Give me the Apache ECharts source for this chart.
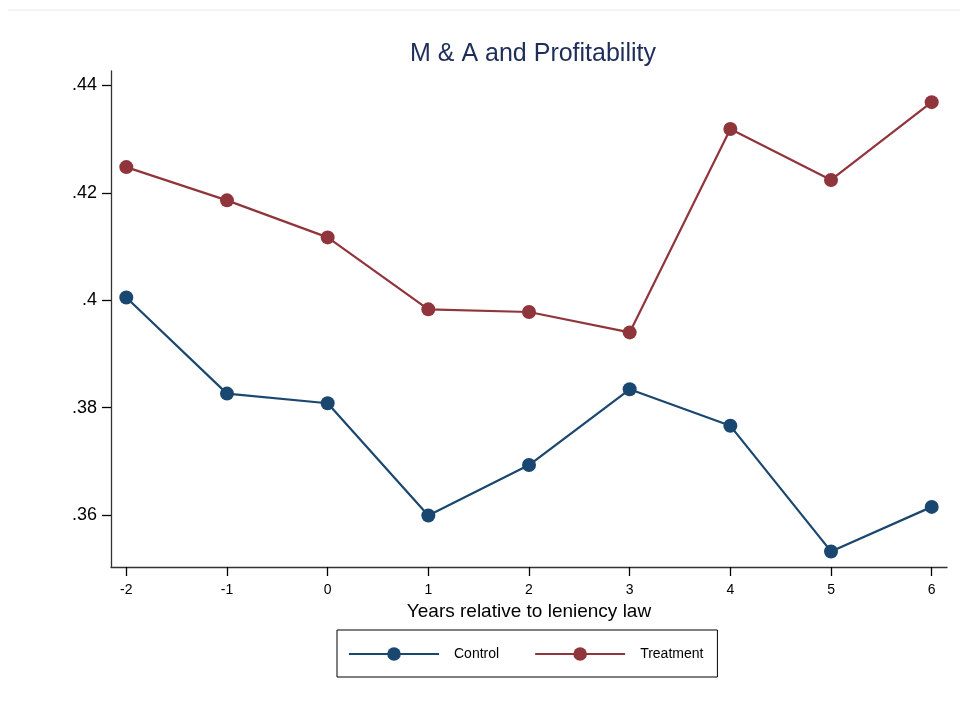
<!DOCTYPE html>
<html>
<head>
<meta charset="utf-8">
<script src="https://cdn.jsdelivr.net/npm/echarts@6/dist/echarts.min.js"></script>
<style>
  html, body { margin: 0; padding: 0; background: #fff; }
  #chart { width: 960px; height: 703px; }
</style>
</head>
<body>
<div id="chart"></div>
<script>
// years relative to the law
var years = [-2, -1, 0, 1, 2, 3, 4, 5, 6];
var controlVals = [0.4005, 0.3826, 0.3808, 0.3599, 0.3693, 0.3834, 0.3766, 0.3532, 0.3615];
var treatVals = [0.4248, 0.4186, 0.4117, 0.3983, 0.3978, 0.3940, 0.4319, 0.4224, 0.4369];
var yTicks = [0.36, 0.38, 0.40, 0.42, 0.44];

var blue = '#1a476f';
var red = '#90353b';

function pairs(vals) {
	var out = [];
	years.forEach(function(yr, i) {
		out.push([yr, vals[i]]);
	});
	return out;
}

var myChart = echarts.init(document.getElementById('chart'));

var option = {
	backgroundColor: '#fff',
	animation: false,
	title: {
		text: 'M & A and Profitability',
		left: 528,
		textAlign: 'center',
		top: 37,
		textStyle: {
			fontFamily: 'Arial, "Liberation Sans", sans-serif',
			fontSize: 25,
			fontWeight: 'normal',
			color: '#1e2d5a'
		}
	},
	graphic: [{
		type: 'line',
		shape: { x1: 8, y1: 10, x2: 960, y2: 10 },
		style: { stroke: '#e4eaec', lineWidth: 1 }
	}],
	grid: {
		left: 111,
		right: 13,
		top: 71,
		bottom: 136
	},
	xAxis: {
		type: 'value',
		min: -2.152,
		max: 6.152,
		name: 'Years relative to leniency law',
		nameLocation: 'middle',
		nameGap: 29,
		nameTextStyle: {
			fontFamily: 'Arial, "Liberation Sans", sans-serif',
			fontSize: 19,
			color: '#000'
		},
		splitLine: { show: false },
		axisLine: { onZero: false, lineStyle: { color: '#333', width: 1.3 } },
		axisTick: { customValues: years, length: 9, lineStyle: { color: '#000', width: 1.3 } },
		axisLabel: {
			customValues: years,
			margin: 16,
			fontFamily: 'Arial, "Liberation Sans", sans-serif',
			fontSize: 14,
			color: '#000'
		}
	},
	yAxis: {
		type: 'value',
		min: 0.3503,
		max: 0.4427,
		splitLine: { show: false },
		axisLine: { show: true, onZero: false, lineStyle: { color: '#333', width: 1.3 } },
		axisTick: { show: true, customValues: yTicks, length: 9, lineStyle: { color: '#000', width: 1.3 } },
		axisLabel: {
			customValues: yTicks,
			margin: 14,
			fontFamily: 'Arial, "Liberation Sans", sans-serif',
			fontSize: 18,
			color: '#000',
			formatter: function(v) {
				return String(Number(v.toFixed(2))).replace(/^0/, '');
			}
		}
	},
	legend: {
		data: ['Control', 'Treatment'],
		left: 337,
		top: 630,
		orient: 'horizontal',
		itemWidth: 90,
		itemHeight: 17,
		itemGap: 35,
		padding: [17, 14, 16, 11],
		borderColor: '#000',
		borderWidth: 1,
		textStyle: {
			fontFamily: 'Arial, "Liberation Sans", sans-serif',
			fontSize: 14,
			color: '#000',
			padding: [0, 0, 0, 10]
		}
	},
	series: [{
		name: 'Control',
		type: 'line',
		data: pairs(controlVals),
		symbol: 'circle',
		symbolSize: 14,
		itemStyle: { color: blue },
		lineStyle: { color: blue, width: 2.2 }
	}, {
		name: 'Treatment',
		type: 'line',
		data: pairs(treatVals),
		symbol: 'circle',
		symbolSize: 14,
		itemStyle: { color: red },
		lineStyle: { color: red, width: 2.2 }
	}]
};

myChart.setOption(option);
</script>
</body>
</html>
